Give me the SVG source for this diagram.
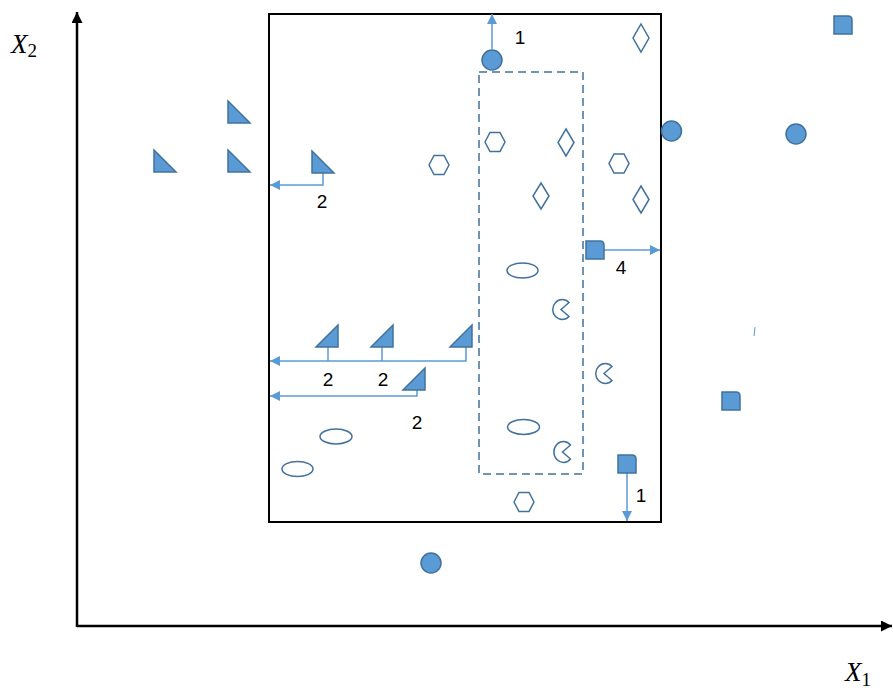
<svg xmlns="http://www.w3.org/2000/svg" width="893" height="694" viewBox="0 0 893 694">
<style>
.fill{fill:#5B9BD5;stroke:#41719C;stroke-width:1.5}
.out{fill:none;stroke:#41719C;stroke-width:1.5}
.conn{fill:none;stroke:#5B9BD5;stroke-width:1.5}
.lbl{font-family:"Liberation Sans",Arial,sans-serif;font-size:19px;fill:#000;text-anchor:middle}
.ax{font-family:"Liberation Serif","Times New Roman",serif;font-size:27px;fill:#000}
</style>
<defs>
<marker id="ah" viewBox="0 0 10 10" refX="10" refY="5" markerWidth="10" markerHeight="10" markerUnits="userSpaceOnUse" orient="auto">
<path d="M0,0 L10,5 L0,10 Z" fill="#5B9BD5"/>
</marker>
<marker id="axh" viewBox="0 0 10 10" refX="10" refY="5" markerWidth="11" markerHeight="11" markerUnits="userSpaceOnUse" orient="auto">
<path d="M0,0 L10,5 L0,10 Z" fill="#000"/>
</marker>
</defs>
<rect width="893" height="694" fill="#fff"/>

<g id="axes">
<line x1="77" y1="627" x2="77" y2="12" stroke="#000" stroke-width="2.5" marker-end="url(#axh)"/>
<line x1="77" y1="626" x2="892" y2="626" stroke="#000" stroke-width="2.5" marker-end="url(#axh)"/>
<text class="ax" x="11" y="53"><tspan font-style="italic">X</tspan><tspan font-size="19" dy="4">2</tspan></text>
<text class="ax" x="845" y="681"><tspan font-style="italic">X</tspan><tspan font-size="19" dy="5">1</tspan></text>
</g>

<g id="region-main"><rect x="269" y="14" width="392" height="508" fill="none" stroke="#000" stroke-width="2"/></g>
<g id="region-dashed"><rect x="479" y="72" width="104" height="402" fill="none" stroke="#41719C" stroke-width="1.5" stroke-dasharray="8,5"/></g>

<g id="connectors">
<line class="conn" x1="492" y1="49" x2="492" y2="14" marker-end="url(#ah)"/>
<polyline class="conn" points="323,173 323,185 270,185" marker-end="url(#ah)"/>
<line class="conn" x1="604" y1="250" x2="660" y2="250" marker-end="url(#ah)"/>
<polyline class="conn" points="466,347 466,361 270,361" marker-end="url(#ah)"/>
<line class="conn" x1="328" y1="347" x2="328" y2="361"/>
<line class="conn" x1="382" y1="347" x2="382" y2="361"/>
<polyline class="conn" points="417,390 417,396 270,396" marker-end="url(#ah)"/>
<line class="conn" x1="627" y1="473" x2="627" y2="521" marker-end="url(#ah)"/>
<line x1="755" y1="327" x2="754" y2="336" stroke="#5B9BD5" stroke-width="1"/>
</g>

<g id="labels">
<text class="lbl" x="520" y="44">1</text>
<text class="lbl" x="322" y="208">2</text>
<text class="lbl" x="621" y="274">4</text>
<text class="lbl" x="328" y="386">2</text>
<text class="lbl" x="383" y="386">2</text>
<text class="lbl" x="417" y="429">2</text>
<text class="lbl" x="641" y="502">1</text>
</g>

<g id="triangles">
<path id="t1" class="fill" d="M228,101 L228,123 L250,123 Z"/>
<path id="t2" class="fill" d="M154,150 L154,172 L176,172 Z"/>
<path id="t3" class="fill" d="M228,150 L228,172 L250,172 Z"/>
<path id="t4" class="fill" d="M312,151 L312,173 L334,173 Z"/>
<path id="t5" class="fill" d="M338,325 L338,347 L316,347 Z"/>
<path id="t6" class="fill" d="M393,325 L393,347 L371,347 Z"/>
<path id="t7" class="fill" d="M472,325 L472,347 L450,347 Z"/>
<path id="t8" class="fill" d="M425,368 L425,390 L403,390 Z"/>
</g>

<g id="circles">
<circle id="c1" class="fill" cx="492" cy="60" r="10"/>
<circle id="c2" class="fill" cx="671.5" cy="131" r="10"/>
<circle id="c3" class="fill" cx="796" cy="134" r="10"/>
<circle id="c4" class="fill" cx="431" cy="563" r="10"/>
</g>

<g id="squares">
<path id="s1" class="fill" d="M834,16 H848 Q852,16 852,20 V34 H834 Z"/>
<path id="s2" class="fill" d="M586,241 H600 Q604,241 604,245 V259 H586 Z"/>
<path id="s3" class="fill" d="M722,392 H736 Q740,392 740,396 V410 H722 Z"/>
<path id="s4" class="fill" d="M618,455 H632 Q636,455 636,459 V473 H618 Z"/>
</g>

<g id="hexagons">
<path id="h1" class="out" d="M429,165 L434,155.5 L444,155.5 L449,165 L444,174.5 L434,174.5 Z"/>
<path id="h2" class="out" d="M485,142 L490,132.5 L500,132.5 L505,142 L500,151.5 L490,151.5 Z"/>
<path id="h3" class="out" d="M609,163.5 L614,154 L624,154 L629,163.5 L624,173 L614,173 Z"/>
<path id="h4" class="out" d="M514,502 L519,492.5 L529,492.5 L534,502 L529,511.5 L519,511.5 Z"/>
</g>

<g id="diamonds">
<path id="d1" class="out" d="M641,24 L649,38 L641,52 L633,38 Z"/>
<path id="d2" class="out" d="M566,129 L574,142.5 L566,156 L558,142.5 Z"/>
<path id="d3" class="out" d="M541,183 L549,196 L541,209 L533,196 Z"/>
<path id="d4" class="out" d="M641,186 L649,199.5 L641,213 L633,199.5 Z"/>
</g>

<g id="ellipses">
<ellipse id="e1" class="out" cx="522.5" cy="270.5" rx="15.5" ry="7.5"/>
<ellipse id="e2" class="out" cx="336" cy="436.5" rx="16" ry="7.5"/>
<ellipse id="e3" class="out" cx="297.5" cy="469" rx="15.5" ry="7.5"/>
<ellipse id="e4" class="out" cx="523.5" cy="427" rx="16" ry="7.5"/>
</g>

<g id="pacmen">
<path id="p1" class="out" d="M561,309.5 L569,302.5 A9.5,10 0 1 0 569,316.5 Z"/>
<path id="p2" class="out" d="M604,373.5 L612,366.5 A9.5,10 0 1 0 612,380.5 Z"/>
<path id="p3" class="out" d="M562.5,452 L570.5,445 A9.5,10.5 0 1 0 570.5,459 Z"/>
</g>
</svg>
